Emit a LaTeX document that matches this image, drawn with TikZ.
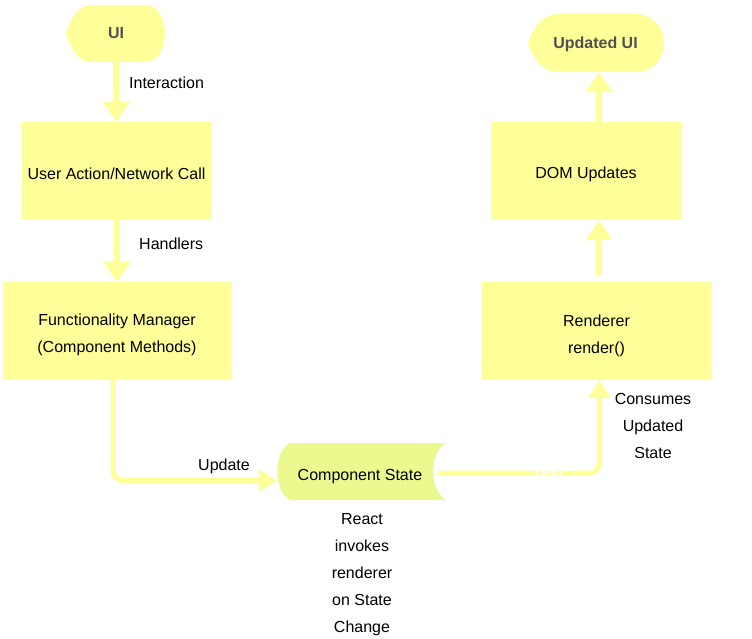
\documentclass[tikz,border=0pt]{standalone}
\usepackage{fontspec}
\setmainfont{Liberation Sans}
\usetikzlibrary{arrows.meta,calc}
\definecolor{boxyellow}{HTML}{FFFF99}
\definecolor{stategreen}{HTML}{EBF98E}
\definecolor{linkyellow}{HTML}{FFFF99}
\definecolor{uitext}{HTML}{505050}
\newcommand{\dropt}[2]{\raisebox{-#1}[\height][\depth]{#2}}
\begin{document}
\begin{tikzpicture}[x=1pt,y=-1pt,
  box/.style={fill=boxyellow, draw=none, align=center, inner sep=0pt, font=\fontsize{16}{27}\selectfont},
  shapetext/.style={draw=none, align=center, inner sep=0pt, font=\fontsize{16}{27}\selectfont},
  uilabel/.style={shapetext, text=uitext, font=\fontsize{16}{27}\selectfont\bfseries},
  lbl/.style={align=center, inner sep=0pt, font=\fontsize{16}{27}\selectfont},
  conn/.style={draw=linkyellow, line width=6pt, -{Triangle[length=20pt,width=26pt]}},
  bentconn/.style={draw=linkyellow, line width=5pt, rounded corners=10pt, -{Triangle[length=18pt,width=22pt]}}
]
\useasboundingbox (0,0) rectangle (752,639);

% shapes
\fill[boxyellow] (66,33.5) .. controls (70,20) and (77,7) .. (89,5) -- (145,5)
  .. controls (171.7,5) and (171.7,62) .. (145,62) -- (89,62)
  .. controls (77,60) and (70,47) .. cycle;
\fill[boxyellow] (528,43) .. controls (533,28) and (541,16) .. (556,14) -- (635,14)
  .. controls (673.7,14) and (673.7,72) .. (635,72) -- (556,72)
  .. controls (541,70) and (533,58) .. cycle;
\fill[stategreen] (290,443) -- (446,443) .. controls (429,452) and (429,491) .. (446,500)
  -- (290,500) .. controls (273,491) and (273,452) .. cycle;

% nodes
\node[uilabel, minimum width=98pt, minimum height=57pt] (ui) at (116,33.5) {UI};
\node[uilabel, minimum width=137pt, minimum height=58pt] (uui) at (595.5,43) {\dropt{1pt}{Updated UI}};
\node[box, minimum width=189pt, minimum height=98pt] (ua) at (116.5,171) {\dropt{3pt}{User Action/Network Call}};
\node[box, minimum width=228pt, minimum height=98pt] (fm) at (117,331) {\dropt{4pt}{Functionality Manager}\\\dropt{4pt}{(Component Methods)}};
\node[box, minimum width=190pt, minimum height=98pt] (dom) at (586,171) {\dropt{3pt}{DOM Updates}};
\node[box, minimum width=229pt, minimum height=98pt] (rd) at (596.5,331) {\dropt{5pt}{Renderer}\\\dropt{5pt}{render()}};
\node[shapetext, minimum width=170pt, minimum height=57pt] (cs) at (362,471.5) {\hspace*{-4pt}\dropt{5pt}{Component State}};
\coordinate (ax) at (599,0);

% connectors
\draw[conn] (ui.south) -- (ua.north);
\draw[conn] (ua.south) -- (fm.north);
\draw[bentconn] ([xshift=-4pt]fm.south) |- ([yshift=-9pt]cs.west);
\draw[bentconn, line cap=round] ([xshift=-7pt,yshift=-1.5pt]cs.east) -| ([xshift=3pt]rd.south);
\draw[conn] ([yshift=6pt]rd.north -| ax) -- (dom.south -| ax);
\draw[conn] (dom.north -| ax) -- (uui.south -| ax);

% labels
\node[lbl, anchor=west] (l1) at (129,83) {Interaction};
\node[lbl, anchor=west] (l2) at (139,244) {Handlers};
\node[lbl, anchor=west] (l3) at (198,466) {Update};
\node[lbl] (l4) at (653,426) {Consumes\\Updated\\State};
\node[lbl] (l5) at (362,575) {React\\invokes\\renderer\\on State\\Change};
\node[lbl, text=white, font=\fontsize{16}{27}\selectfont\bfseries] (l6) at (548,472) {Text};
\end{tikzpicture}
\end{document}
